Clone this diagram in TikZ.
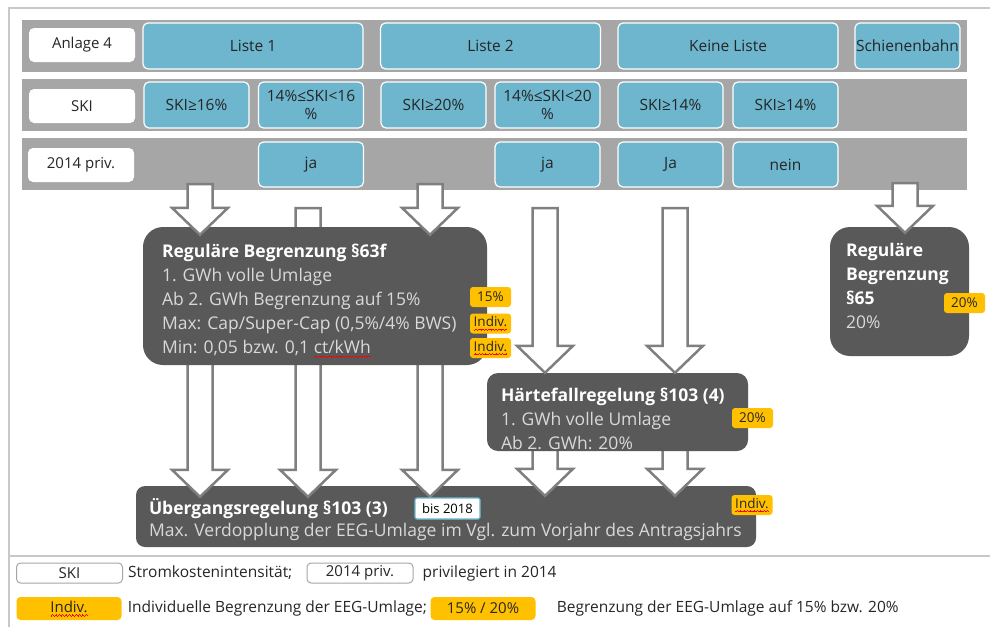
\documentclass[tikz,border=0pt]{standalone}
\usepackage{fontspec}
\setmainfont{Open Sans}
\usetikzlibrary{calc,positioning}

\definecolor{bandgray}{HTML}{A6A6A6}
\definecolor{cellblue}{HTML}{6DB6CE}
\definecolor{boxgray}{HTML}{595959}
\definecolor{tagyellow}{HTML}{FFC000}
\definecolor{arrgray}{HTML}{7F7F7F}
\definecolor{framegray}{HTML}{C8C8C8}
\definecolor{lighttext}{HTML}{D9D9D9}
\definecolor{darktext}{HTML}{262626}

% red spell-check squiggle (made of small rules)
\newcommand{\spellwave}[1]{\setbox0\hbox{#1}\rlap{\textcolor{red}{\hbox to\wd0{\xleaders\hbox{\rule[-4pt]{0.8pt}{0.7pt}\rule[-3.4pt]{0.8pt}{0.7pt}\rule[-2.8pt]{0.8pt}{0.7pt}\rule[-3.4pt]{0.8pt}{0.7pt}}\hfill}}}\box0}

% hollow block arrow from #1 (top) to #2 (tip)
\newcommand{\hollowarr}[2]{%
  \draw[arrline] ($(#1)+(-12.5,0)$) -- ($(#2)+(-12.5,-27)$) -- ($(#2)+(-28,-27)$) -- (#2)
    -- ($(#2)+(28,-27)$) -- ($(#2)+(12.5,-27)$) -- ($(#1)+(12.5,0)$) -- cycle;}

\tikzset{
  band/.style={fill=bandgray, minimum width=945pt, minimum height=52pt, inner sep=0pt},
  rowlabel/.style={fill=white, rounded corners=5pt, minimum width=106pt, minimum height=34pt, inner sep=0pt, text=darktext, font=\fontsize{15}{17}\selectfont},
  cell/.style={fill=cellblue, draw=white, line width=1.2pt, rounded corners=5pt, minimum height=46pt, inner sep=0pt, align=center, text=darktext, font=\fontsize{15.5}{18}\selectfont},
  narrow/.style={cell, minimum width=105pt},
  wide/.style={cell, minimum width=220pt},
  darkbox/.style={fill=boxgray, rounded corners=20pt, inner sep=0pt},
  boxtext/.style={anchor=north west, inner sep=0pt, align=left, text=lighttext, font=\fontsize{17.5}{24}\selectfont},
  tag/.style={fill=tagyellow, rounded corners=3pt, minimum width=41pt, minimum height=20pt, inner sep=0pt, text=darktext, font=\fontsize{13.5}{15}\selectfont},
  bisbox/.style={fill=white, draw=cellblue, line width=1.2pt, rounded corners=2pt, minimum width=65pt, minimum height=21pt, inner sep=0pt, text=black, font=\fontsize{13}{15}\selectfont},
  legbox/.style={fill=white, draw=bandgray, line width=1pt, rounded corners=4pt, minimum width=106pt, minimum height=20pt, inner sep=0pt, text=darktext, font=\fontsize{15}{17}\selectfont},
  legtag/.style={fill=tagyellow, rounded corners=4pt, minimum width=105pt, minimum height=23pt, inner sep=0pt, text=darktext, font=\fontsize{15}{17}\selectfont},
  legtext/.style={inner sep=0pt, anchor=west, text=darktext, font=\fontsize{15.5}{17}\selectfont},
  arrline/.style={draw=arrgray, fill=white, line width=2.5pt, line join=miter},
}

\begin{document}
\begin{tikzpicture}[x=1pt, y=-1pt]
  \useasboundingbox (0,0) rectangle (990,627);

  % frame
  \draw[framegray, line width=1.2pt] (9,627) -- (9,8) -- (990,8);
  \draw[framegray, line width=1.2pt] (9,556) -- (990,556);

  % the three rows
  \node[band] (band1) at (494.5,45.5) {};
  \node[band] (band2) at (494.5,105) {};
  \node[band] (band3) at (494.5,164) {};

  \node[rowlabel] (anl) at (82,45) {Anlage 4};
  \node[rowlabel] (ski) at (82,106) {SKI};
  \node[rowlabel] (priv) at (81,165) {2014 priv.};

  \node[wide] (liste1) at (253,46) {Liste 1};
  \node[wide] (liste2) at (490.5,46) {Liste 2};
  \node[wide] (keine) at (728,46) {Keine Liste};
  \node[narrow] (schiene) at (907.5,46) {Schienenbahn};

  \node[narrow] (s16) at (196.5,105) {SKI≥16\%};
  \node[narrow] (s1416) at (311,105) {14\%≤SKI<16\\\%};
  \node[narrow] (s20) at (433.5,105) {SKI≥20\%};
  \node[narrow] (s1420) at (547.5,105) {14\%≤SKI<20\\\%};
  \node[narrow] (s14a) at (670.5,105) {SKI≥14\%};
  \node[narrow] (s14b) at (785.5,105) {SKI≥14\%};

  \node[narrow, minimum height=45pt] (ja1) at (311,164.5) {ja};
  \node[narrow, minimum height=45pt] (ja2) at (547.5,164.5) {ja};
  \node[narrow, minimum height=45pt] (ja3) at (670.5,164.5) {Ja};
  \node[narrow, minimum height=45pt] (nein) at (785.5,164.5) {nein};

  % bottom box and the arrows behind the upper boxes
  \node[darkbox, minimum width=620pt, minimum height=61pt, rounded corners=9pt] (ueb) at (446,516.5) {};

  \coordinate (a3) at (308,208);
  \coordinate (a4) at (200,357);
  \coordinate (a5) at (430,357);
  \coordinate (a8) at (545,440);
  \coordinate (a9) at (675,440);
  \hollowarr{a3}{$(a3 |- ueb.north)+(0,11)$}
  \hollowarr{a4}{$(a4 |- ueb.north)+(0,11)$}
  \hollowarr{a5}{$(a5 |- ueb.north)+(0,11)$}
  \hollowarr{a8}{$(a8 |- ueb.north)+(0,10)$}
  \hollowarr{a9}{$(a9 |- ueb.north)+(0,10)$}

  \node[darkbox, minimum width=344pt, minimum height=138pt] (reg63) at (315,296) {};
  \node[darkbox, minimum width=261pt, minimum height=78pt, rounded corners=11pt] (haert) at (617.5,412) {};
  \node[darkbox, minimum width=139pt, minimum height=129pt] (reg65) at (899.5,291.5) {};

  % arrows into the boxes
  \coordinate (a1) at (200,184);
  \coordinate (a2) at (430,184);
  \coordinate (a6) at (545,208);
  \coordinate (a7) at (675,208);
  \coordinate (a10) at (905,183);
  \hollowarr{a1}{$(a1 |- reg63.north)+(0,8)$}
  \hollowarr{a2}{$(a2 |- reg63.north)+(0,8)$}
  \hollowarr{a6}{a6 |- haert.north}
  \hollowarr{a7}{a7 |- haert.north}
  \hollowarr{a10}{$(a10 |- reg65.north)+(0,6)$}

  % box texts
  \node[boxtext] (reg63t) at ($(reg63.north west)+(19,17)$)
    {\textcolor{white}{\bfseries Reguläre Begrenzung §63f}\\
     1. GWh volle Umlage\\
     Ab 2. GWh Begrenzung auf 15\%\\
     Max: Cap/Super-Cap (0,5\%/4\% BWS)\\
     Min: 0,05 bzw. 0,1 \spellwave{ct/kWh}};
  \node[boxtext] (haertt) at ($(haert.north west)+(14,15)$)
    {\textcolor{white}{\bfseries Härtefallregelung §103 (4)}\\
     1. GWh volle Umlage\\
     Ab 2. GWh: 20\%};
  \node[boxtext] (reg65t) at ($(reg65.north west)+(16,16)$)
    {\textcolor{white}{\bfseries Reguläre}\\
     \textcolor{white}{\bfseries Begrenzung}\\
     \textcolor{white}{\bfseries §65}\\
     20\%};
  \node[boxtext, font=\fontsize{17.5}{22}\selectfont] (uebt) at ($(ueb.north west)+(13,12)$)
    {\textcolor{white}{\bfseries Übergangsregelung §103 (3)}\\
     Max. Verdopplung der EEG-Umlage im Vgl. zum Vorjahr des Antragsjahrs};

  % tags
  \node[tag] (t15) at (490.5,297) {15\%};
  \node[tag] (tind1) at (490.5,323.5) {\spellwave{Indiv.}};
  \node[tag] (tind2) at (490.5,348) {\spellwave{Indiv.}};
  \node[tag] (t20a) at (752.5,418) {20\%};
  \node[tag] (t20b) at (964.5,303) {20\%};
  \node[tag] (tind3) at (752,505) {\spellwave{Indiv.}};
  \node[bisbox] (bis) at (447.5,508.5) {bis 2018};

  % legend
  \node[legbox] (lgski) at (69.5,573) {SKI};
  \node[legtext, right=5pt of lgski] (lgskit) {Stromkostenintensität;};
  \node[legbox] (lgpriv) at (360,573) {2014 priv.};
  \node[legtext, right=9pt of lgpriv] (lgprivt) {privilegiert in 2014};
  \node[legtag] (lgind) at (69,608.5) {\spellwave{Indiv.}};
  \node[legtext, right=6pt of lgind] (lgindt) {Individuelle Begrenzung der EEG-Umlage;};
  \node[legtag] (lgpct) at (483,608.5) {15\% / 20\%};
  \node[legtext, right=21pt of lgpct] (lgpctt) {Begrenzung der EEG-Umlage auf 15\% bzw. 20\%};
\end{tikzpicture}
\end{document}
